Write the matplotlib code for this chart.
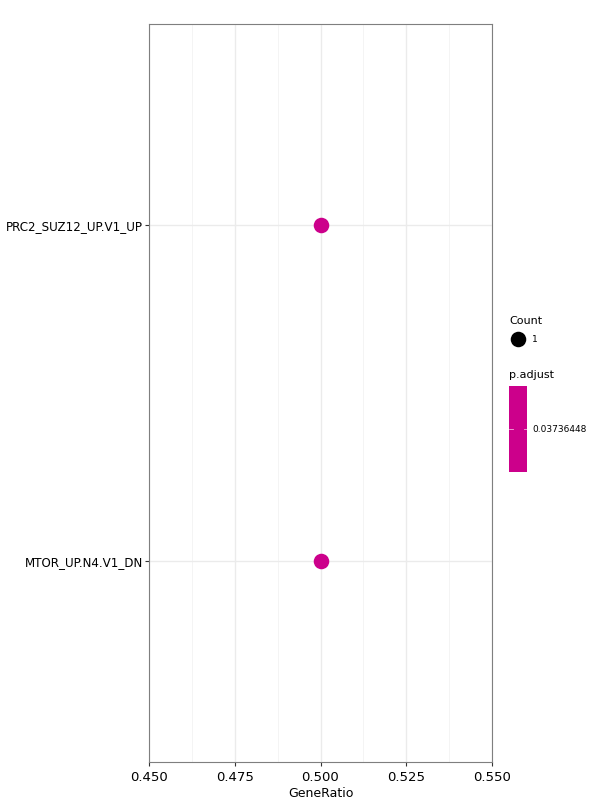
import matplotlib
matplotlib.use("Agg")
import matplotlib.pyplot as plt
from matplotlib.patches import Rectangle

# data
terms = ["MTOR_UP.N4.V1_DN", "PRC2_SUZ12_UP.V1_UP"]
gene_ratio = [0.5, 0.5]
counts = [1, 1]
p_adjust = [0.03736448, 0.03736448]
point_color = "#CC008B"

fig = plt.figure(figsize=(6, 8), dpi=100)
ax = fig.add_axes([149 / 600, 1 - 762 / 800, (492 - 149) / 600, (762 - 24) / 800])

ypos = list(range(1, len(terms) + 1))
ax.scatter(gene_ratio, ypos, s=125, color=point_color, zorder=3, linewidths=0)

ax.set_xlim(0.45, 0.55)
ax.set_ylim(0.4, len(terms) + 0.6)
ax.set_xticks([0.45, 0.475, 0.5, 0.525, 0.55])
ax.set_xticks([0.4625, 0.4875, 0.5125, 0.5375], minor=True)
ax.set_xticklabels(["0.450", "0.475", "0.500", "0.525", "0.550"])
ax.set_yticks(ypos)
ax.set_yticklabels(terms)
ax.grid(True, which="major", color="#EBEBEB", linewidth=1.0, zorder=0)
ax.grid(True, which="minor", axis="x", color="#F2F2F2", linewidth=0.6, zorder=0)
ax.set_axisbelow(True)
ax.tick_params(axis="both", which="major", colors="#333333",
               labelcolor="black", length=3, width=0.8)
ax.tick_params(axis="x", which="major", labelsize=9.5)
ax.tick_params(axis="y", which="major", labelsize=8.6, pad=1.5)
ax.tick_params(axis="x", which="minor", length=0)
for s in ax.spines.values():
    s.set_color("#7F7F7F")
    s.set_linewidth(0.8)
ax.set_xlabel("GeneRatio", fontsize=9, labelpad=2)

# legend drawn in pixel coordinates on an overlay axes
lax = fig.add_axes([0, 0, 1, 1], facecolor="none")
lax.set_xlim(0, 600)
lax.set_ylim(800, 0)
lax.axis("off")

# legend: Count
lax.text(509, 321, "Count", fontsize=8, va="center", ha="left")
lax.scatter([518], [339], s=125, color="black", linewidths=0)
lax.text(532, 339, str(counts[0]), fontsize=6.5, va="center", ha="left")

# legend: p.adjust colour bar
lax.text(509, 375, "p.adjust", fontsize=8, va="center", ha="left")
lax.add_patch(Rectangle((509, 386), 18, 86, color=point_color, linewidth=0))
lax.plot([509, 512.5], [429, 429], color="white", linewidth=0.6, alpha=0.7)
lax.plot([523.5, 527], [429, 429], color="white", linewidth=0.6, alpha=0.7)
lax.text(532, 429.5, "%.8f" % p_adjust[0], fontsize=6.5, va="center", ha="left")

fig.savefig("out.png", dpi=100, facecolor="white")
